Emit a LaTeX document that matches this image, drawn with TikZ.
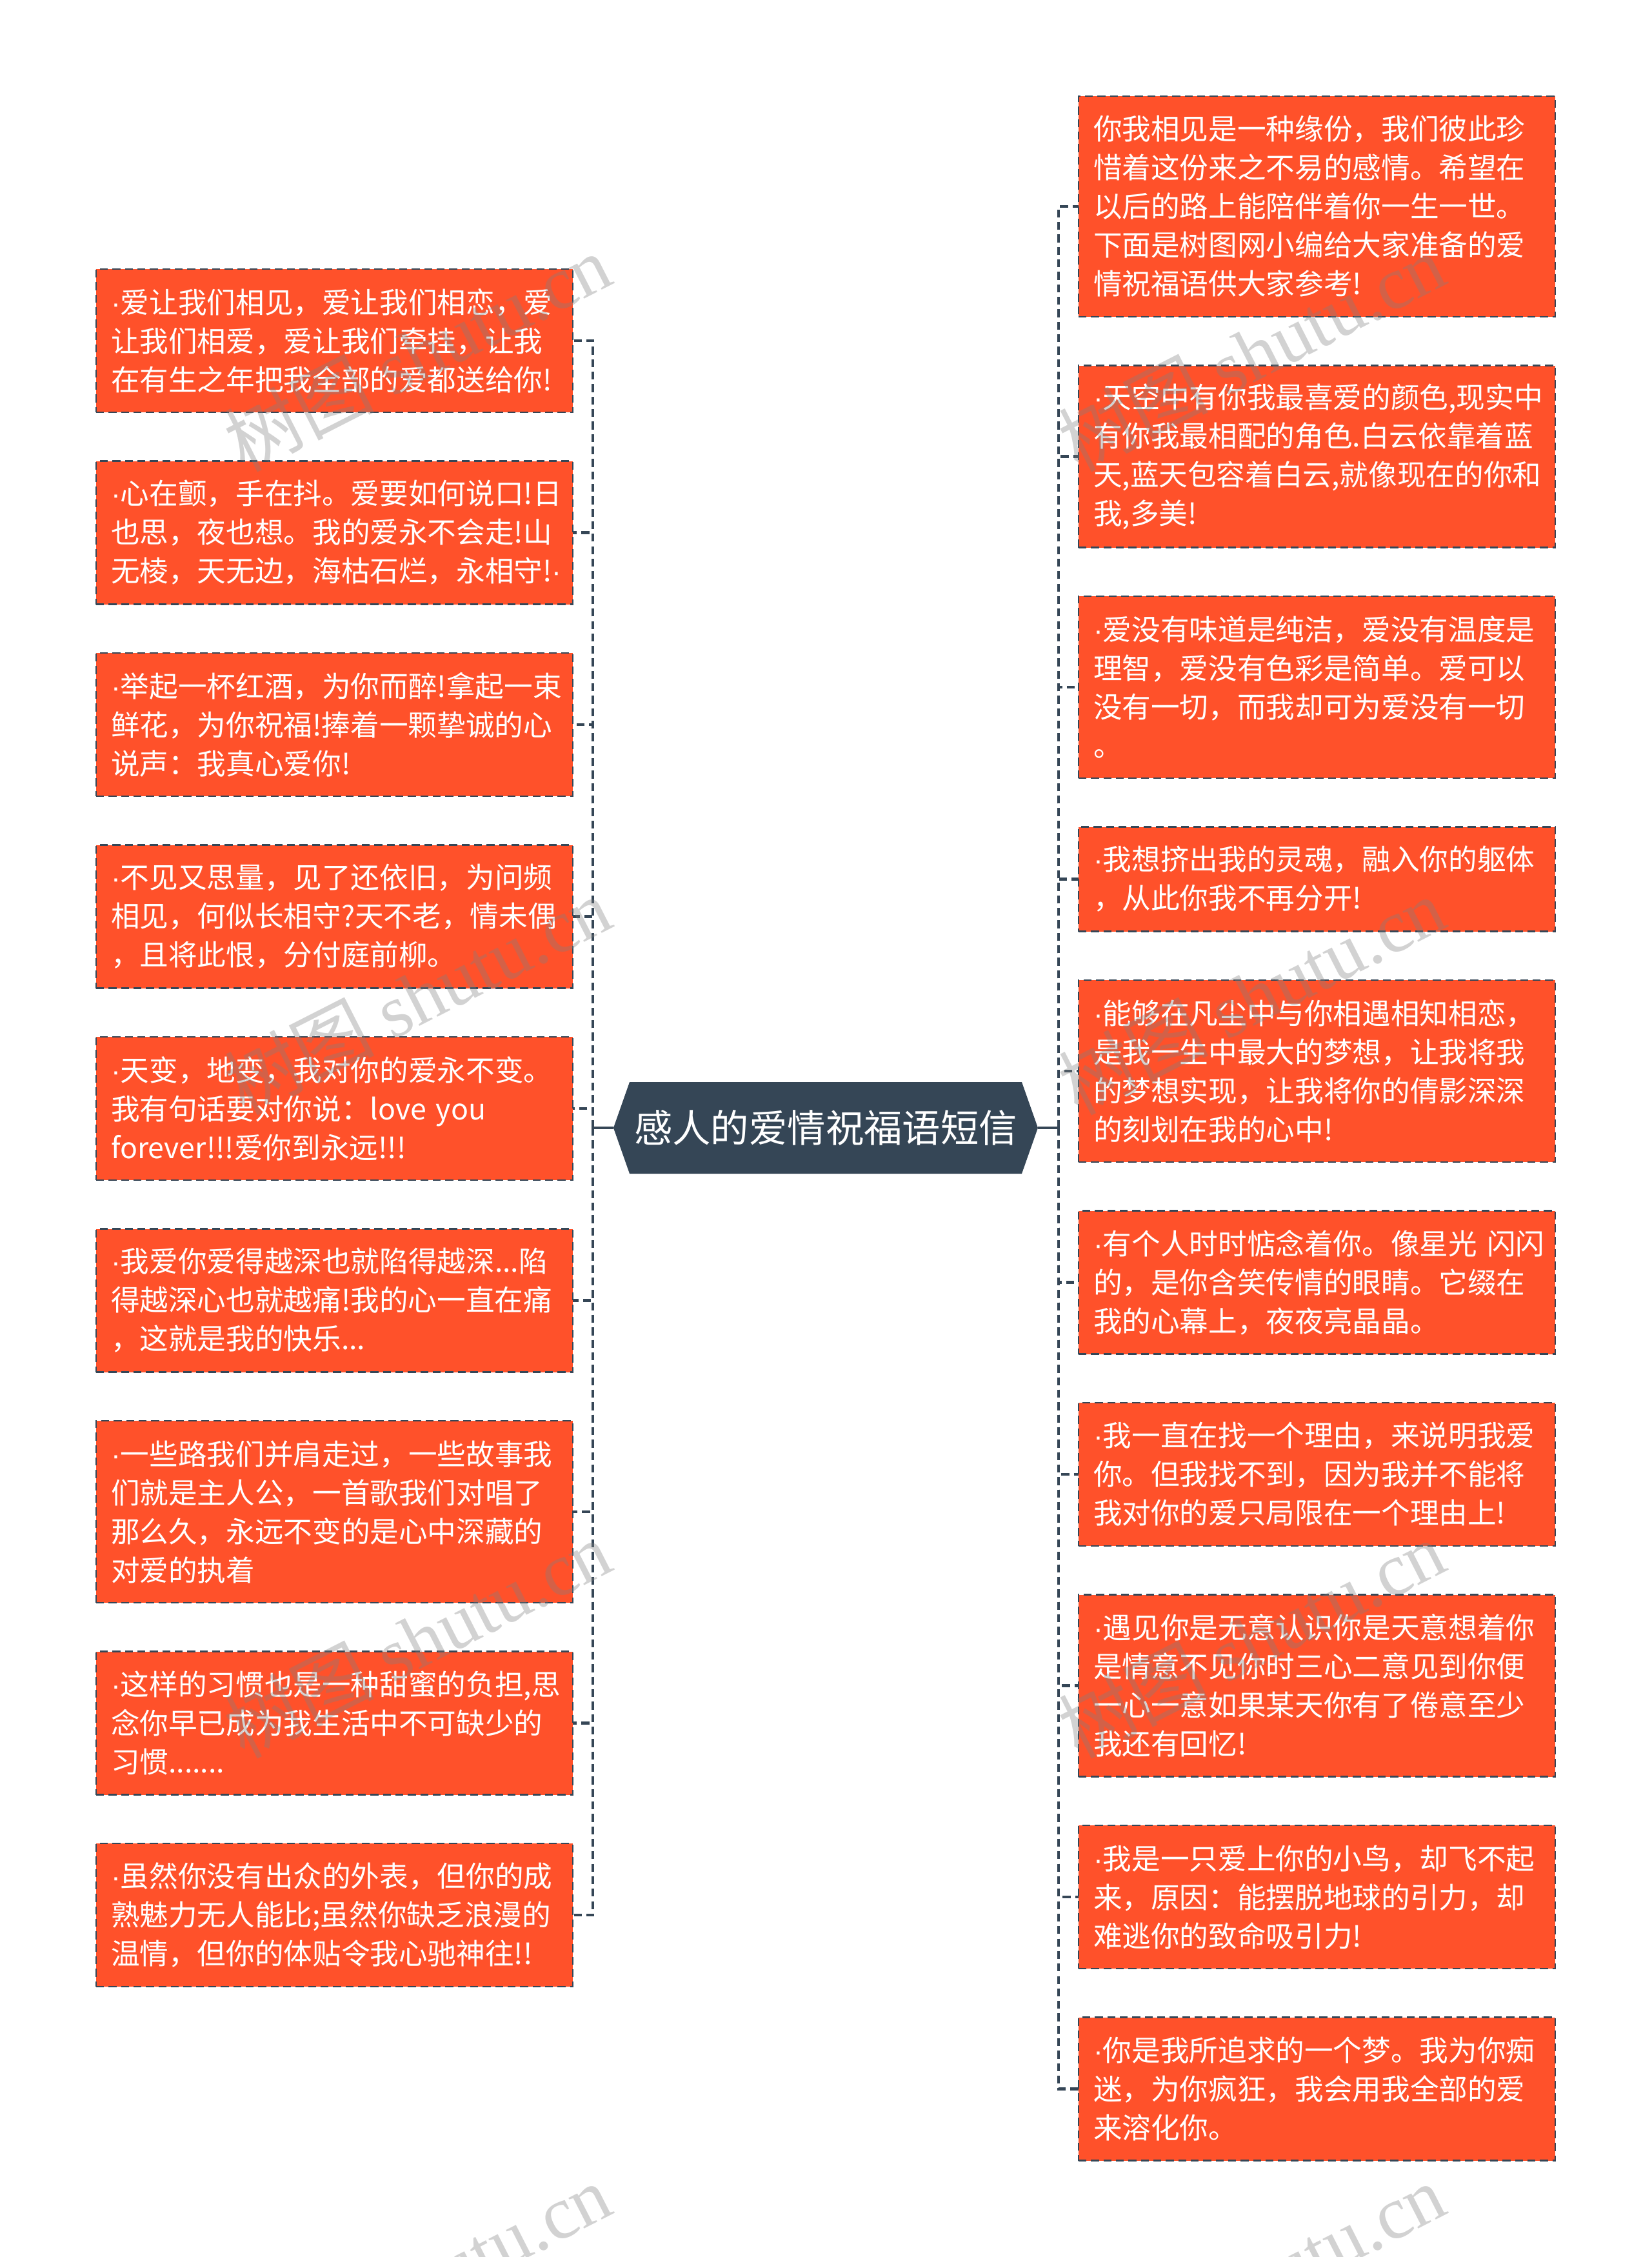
\documentclass[tikz,border=0pt]{standalone}
\usepackage{fontspec}
\setmainfont{Noto Sans CJK SC}
\newfontfamily\wmlatin{Liberation Serif}
\newfontfamily\dotfont{Liberation Sans}
\newcommand\dt{{\dotfont ·}}
\usetikzlibrary{positioning,backgrounds}
\definecolor{leaforange}{RGB}{255,81,42}
\definecolor{slate}{RGB}{53,70,86}

\begin{document}
\begin{tikzpicture}[
  leaf/.style={rectangle, draw=slate, fill=leaforange, line width=0.8pt,
               dash pattern=on 3.5pt off 2pt, text=white, align=left,
               text width=6.93cm, inner xsep=0.23cm, inner ysep=1pt, outer sep=0pt,
               font=\fontsize{12.7pt}{17.07pt}\selectfont},
  rows/.style={minimum height={#1*0.6cm+0.42cm}},
  root/.style={rectangle, text=white, minimum width=6.58cm,
               minimum height=1.42cm, inner sep=0pt, outer sep=0pt,
               font=\fontsize{16.9pt}{20pt}\selectfont},
  link/.style={draw=slate, line width=1.3pt, dash pattern=on 3.5pt off 2pt},
  stem/.style={draw=slate, line width=1.3pt},
  wmark/.style={rotate=27, text=gray, opacity=0.35, inner sep=0pt,
                font=\fontsize{33pt}{33pt}\selectfont},
]
\useasboundingbox (0,0) rectangle (25.6,-34.98);

\node[root] (root) at (12.8,-17.48) {感人的爱情祝福语短信};
\coordinate (lbus) at (9.19,-17.48);
\coordinate (rbus) at (16.41,-17.48);

\begin{scope}[on background layer]
  \fill[white] (0,0) rectangle (25.6,-34.98);
  \fill[slate] (root.west) -- ([xshift=0.25cm]root.north west)
    -- ([xshift=-0.25cm]root.north east) -- (root.east)
    -- ([xshift=-0.25cm]root.south east) -- ([xshift=0.25cm]root.south west) -- cycle;
\end{scope}

% left side
\node[leaf, rows=3, anchor=north west] (L1) at (1.49,-4.17)
  {\dt 爱让我们相见，爱让我们相恋，爱\\让我们相爱，爱让我们牵挂，让我\\在有生之年把我全部的爱都送给你!};
\node[leaf, rows=3, below=0.755cm of L1] (L2)
  {\dt 心在颤，手在抖。爱要如何说口!日\\也思，夜也想。我的爱永不会走!山\\无棱，天无边，海枯石烂，永相守!\dt};
\node[leaf, rows=3, below=0.755cm of L2] (L3)
  {\dt 举起一杯红酒，为你而醉!拿起一束\\鲜花，为你祝福!捧着一颗挚诚的心\\说声：我真心爱你!};
\node[leaf, rows=3, below=0.755cm of L3] (L4)
  {\dt 不见又思量，见了还依旧，为问频\\相见，何似长相守?天不老，情未偶\\，且将此恨，分付庭前柳。};
\node[leaf, rows=3, below=0.755cm of L4] (L5)
  {\dt 天变，地变，我对你的爱永不变。\\我有句话要对你说：love~you\\forever!!!爱你到永远!!!};
\node[leaf, rows=3, below=0.755cm of L5] (L6)
  {\dt 我爱你爱得越深也就陷得越深...陷\\得越深心也就越痛!我的心一直在痛\\，这就是我的快乐...};
\node[leaf, rows=4, below=0.755cm of L6] (L7)
  {\dt 一些路我们并肩走过，一些故事我\\们就是主人公，一首歌我们对唱了\\那么久，永远不变的是心中深藏的\\对爱的执着};
\node[leaf, rows=3, below=0.755cm of L7] (L8)
  {\dt 这样的习惯也是一种甜蜜的负担,思\\念你早已成为我生活中不可缺少的\\习惯.......};
\node[leaf, rows=3, below=0.755cm of L8] (L9)
  {\dt 虽然你没有出众的外表，但你的成\\熟魅力无人能比;虽然你缺乏浪漫的\\温情，但你的体贴令我心驰神往!!};

% right side
\node[leaf, rows=5, anchor=north west] (R1) at (16.72,-1.49)
  {你我相见是一种缘份，我们彼此珍\\惜着这份来之不易的感情。希望在\\以后的路上能陪伴着你一生一世。\\下面是树图网小编给大家准备的爱\\情祝福语供大家参考!};
\node[leaf, rows=4, below=0.755cm of R1] (R2)
  {\dt 天空中有你我最喜爱的颜色,现实中\\有你我最相配的角色.白云依靠着蓝\\天,蓝天包容着白云,就像现在的你和\\我,多美!};
\node[leaf, rows=4, below=0.755cm of R2] (R3)
  {\dt 爱没有味道是纯洁，爱没有温度是\\理智，爱没有色彩是简单。爱可以\\没有一切，而我却可为爱没有一切\\。};
\node[leaf, rows=2, below=0.755cm of R3] (R4)
  {\dt 我想挤出我的灵魂，融入你的躯体\\，从此你我不再分开!};
\node[leaf, rows=4, below=0.755cm of R4] (R5)
  {\dt 能够在凡尘中与你相遇相知相恋，\\是我一生中最大的梦想，让我将我\\的梦想实现，让我将你的倩影深深\\的刻划在我的心中!};
\node[leaf, rows=3, below=0.755cm of R5] (R6)
  {\dt 有个人时时惦念着你。像星光~闪闪\\的，是你含笑传情的眼睛。它缀在\\我的心幕上，夜夜亮晶晶。};
\node[leaf, rows=3, below=0.755cm of R6] (R7)
  {\dt 我一直在找一个理由，来说明我爱\\你。但我找不到，因为我并不能将\\我对你的爱只局限在一个理由上!};
\node[leaf, rows=4, below=0.755cm of R7] (R8)
  {\dt 遇见你是无意认识你是天意想着你\\是情意不见你时三心二意见到你便\\一心一意如果某天你有了倦意至少\\我还有回忆!};
\node[leaf, rows=3, below=0.755cm of R8] (R9)
  {\dt 我是一只爱上你的小鸟，却飞不起\\来，原因：能摆脱地球的引力，却\\难逃你的致命吸引力!};
\node[leaf, rows=3, below=0.755cm of R9] (R10)
  {\dt 你是我所追求的一个梦。我为你痴\\迷，为你疯狂，我会用我全部的爱\\来溶化你。};

% connectors
\draw[stem] (root.west) -- (lbus);
\draw[stem] (root.east) -- (rbus);
\draw[link] (lbus) |- (L1.east);
\draw[link] (lbus) |- (L2.east);
\draw[link] (lbus) |- (L3.east);
\draw[link] (lbus) |- (L4.east);
\draw[link] (lbus) |- (L5.east);
\draw[link] (lbus) |- (L6.east);
\draw[link] (lbus) |- (L7.east);
\draw[link] (lbus) |- (L8.east);
\draw[link] (lbus) |- (L9.east);
\draw[link] (rbus) |- (R1.west);
\draw[link] (rbus) |- (R2.west);
\draw[link] (rbus) |- (R3.west);
\draw[link] (rbus) |- (R4.west);
\draw[link] (rbus) |- (R5.west);
\draw[link] (rbus) |- (R6.west);
\draw[link] (rbus) |- (R7.west);
\draw[link] (rbus) |- (R8.west);
\draw[link] (rbus) |- (R9.west);
\draw[link] (rbus) |- (R10.west);

% watermark
\node[wmark] (w1) at (6.47,-5.46)  {树图 {\wmlatin shutu.cn}};
\node[wmark] (w2) at (6.47,-15.43) {树图 {\wmlatin shutu.cn}};
\node[wmark] (w3) at (6.47,-25.40) {树图 {\wmlatin shutu.cn}};
\node[wmark] (w4) at (6.47,-35.37) {树图 {\wmlatin shutu.cn}};
\node[wmark] (w5) at (19.40,-5.46)  {树图 {\wmlatin shutu.cn}};
\node[wmark] (w6) at (19.40,-15.43) {树图 {\wmlatin shutu.cn}};
\node[wmark] (w7) at (19.40,-25.40) {树图 {\wmlatin shutu.cn}};
\node[wmark] (w8) at (19.40,-35.37) {树图 {\wmlatin shutu.cn}};
\end{tikzpicture}
\end{document}
